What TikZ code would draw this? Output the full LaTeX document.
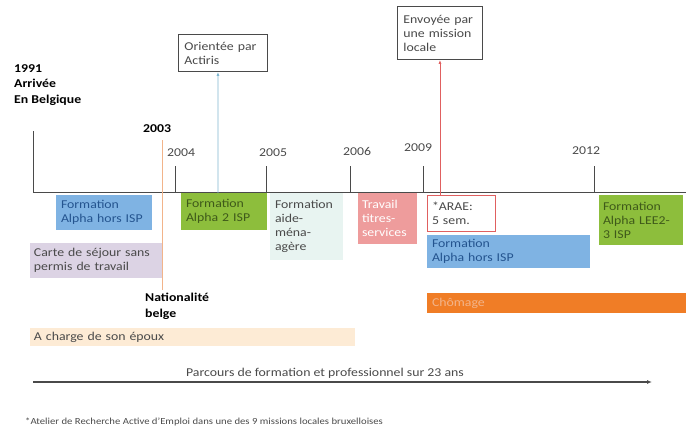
\documentclass[tikz,border=0pt]{standalone}
\usepackage{fontspec}
\setmainfont{Carlito}[FakeStretch=1.15]
\usetikzlibrary{arrows.meta,calc}
\definecolor{txt}{HTML}{4A4A4A}
\definecolor{cblue}{HTML}{7FB3E3}
\definecolor{tblue}{HTML}{24548F}
\definecolor{cgreen}{HTML}{8DBE3C}
\definecolor{tgreen}{HTML}{3F5A1A}
\definecolor{caide}{HTML}{E8F4F1}
\definecolor{cpurple}{HTML}{DCD3E4}
\definecolor{cpeach}{HTML}{FDEBD5}
\definecolor{cpink}{HTML}{EE9C9C}
\definecolor{corange}{HTML}{F07D26}
\definecolor{tred}{HTML}{E06060}
\definecolor{tlineblue}{HTML}{7FB6D0}
\definecolor{torange}{HTML}{F2B48A}
\begin{document}
\begin{tikzpicture}[x=1pt,y=-1pt,
  every node/.style={font=\fontsize{12}{14}\selectfont, text=txt},
  box/.style={anchor=north west, inner xsep=5pt, inner ysep=3pt, align=left, outer sep=0pt},
  ybox/.style={font=\fontsize{12}{15.5}\selectfont\bfseries, text=black, align=left, inner sep=0pt},
  yr/.style={font=\fontsize{12}{14}\selectfont, text=txt, inner sep=0pt},
  tick/.style={line width=0.9pt, draw=txt},
  note/.style={draw=txt, line width=0.9pt, anchor=north west, inner xsep=6pt, inner ysep=4pt, align=left, fill=white}]
\useasboundingbox (0,0) rectangle (686,429);
% timeline
\coordinate (t0) at (33,192);
\coordinate (t1) at (686,192);
\coordinate (l0) at (33,131);
\draw[tick] (l0) -- (t0) -- (t1);
% ticks
\foreach \n/\x/\yy in {a/175/166,b/266/166,c/350/166,d/423/166,e/594/166}{
  \coordinate (tk\n) at (\x,\yy);
  \coordinate (tb\n) at (\x,192);
  \draw[tick] (tk\n) -- (tb\n);
}
% year labels
\node[ybox, anchor=north west] (y1991) at (14,64) {1991\\Arrivée\\En Belgique};
\node[ybox, anchor=base] (y2003) at (157,132) {2003};
\node[yr, anchor=base] (y2004) at (181,156) {2004};
\node[yr, anchor=base] (y2005) at (273,156) {2005};
\node[yr, anchor=base] (y2006) at (357,155) {2006};
\node[yr, anchor=base] (y2009) at (418,151) {2009};
\node[yr, anchor=base] (y2012) at (586,154) {2012};
% 2003 line
\coordinate (o0) at (162,140);
\coordinate (o1) at (162,290);
\draw[torange, line width=0.8pt] (o0) -- (o1);
% boxes
\node[box, fill=cblue, text=tblue, minimum width=96, minimum height=35, text width=86] (fa1) at (56,195) {Formation\\Alpha hors ISP};
\node[box, fill=cgreen, text=tgreen, minimum width=84, minimum height=37, text width=76] (fa2) at (181,193) {Formation\\Alpha 2 ISP};
\node[box, fill=caide, minimum width=73, minimum height=67, text width=63] (aide) at (270,193) {Formation\\aide-\\ména-\\agère};
\node[box, fill=cpurple, minimum width=132, minimum height=35, text width=124, inner xsep=4pt] (carte) at (30,243) {Carte de séjour sans\\permis de travail};
\node[ybox, anchor=north west] (nat) at (145,293) {Nationalité\\belge};
\node[box, fill=cpeach, minimum width=325, minimum height=18, inner ysep=2pt, text width=317, inner xsep=4pt] (charge) at (30,328) {A charge de son époux};
\node[box, fill=cpink, text=white, minimum width=59, minimum height=51, text width=51, inner xsep=4pt] (trav) at (358,193) {Travail\\titres-\\services};
\node[box, draw=tred, line width=0.8pt, fill=white, minimum width=68, minimum height=36, text width=58] (arae) at (427,195) {*ARAE:\\5 sem.};
\node[box, fill=cblue, text=tblue, minimum width=163, minimum height=33, text width=153] (fa3) at (427,235) {Formation\\Alpha hors ISP};
\node[box, fill=cgreen, text=tgreen, minimum width=84, minimum height=50, text width=76, inner xsep=4pt] (fa4) at (599,195) {Formation\\Alpha LEE2-\\3 ISP};
\node[box, fill=corange, text=torange, minimum width=259, minimum height=20, inner ysep=2pt, text width=249] (chom) at (427,293) {Chômage};
% callouts
\node[note, minimum width=89, minimum height=37, text width=77] (acti) at (178,34) {Orientée par\\Actiris};
\node[note, minimum width=85, minimum height=53, text width=73] (miss) at (397,6) {Envoyée par\\une mission\\locale};
\draw[tlineblue, line width=0.9pt, -{Latex[length=4pt,width=3pt]}] ($(fa2.north)+(-6,0)$) -- ($(acti.south)+(-5,0)$);
\draw[tred, line width=0.9pt, -{Latex[length=4pt,width=3pt]}] (miss.south |- arae.north) -- (miss.south);
% bottom arrow
\coordinate (p0) at (33,382);
\coordinate (p1) at (652,382);
\draw[txt, line width=1.2pt, -{Latex[length=5pt,width=4pt]}] (p0) -- (p1);
\node[anchor=base] (parc) at (325,376) {Parcours de formation et professionnel sur 23 ans};
\node[anchor=base west, font=\fontsize{9.3}{10}\selectfont, inner sep=0pt] (foot) at (25,424) {*Atelier de Recherche Active d’Emploi dans une des 9 missions locales bruxelloises};
\end{tikzpicture}
\end{document}
